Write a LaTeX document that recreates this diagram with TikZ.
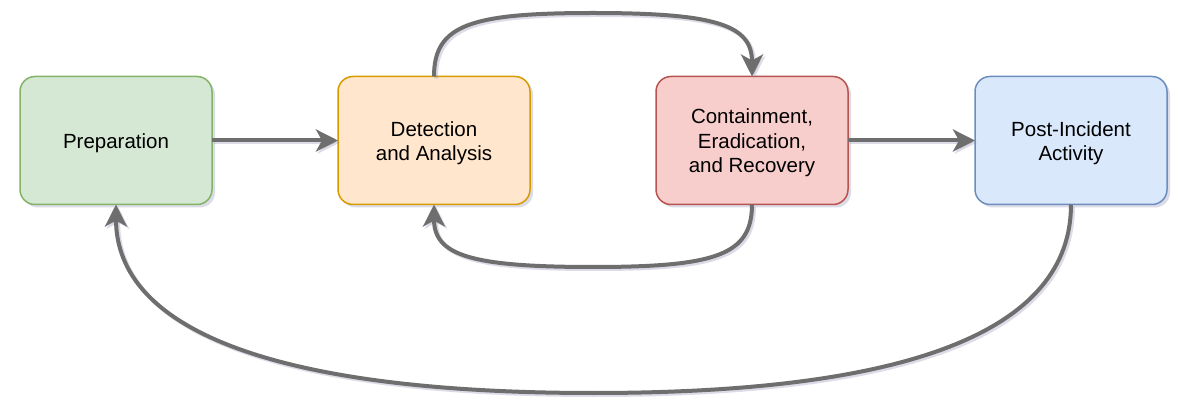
\documentclass[tikz,border=0pt]{standalone}
\usepackage{fontspec}
\setmainfont{Liberation Sans}
\usetikzlibrary{arrows.meta,shadows}
\definecolor{edgec}{HTML}{6E6E6E}
\definecolor{shc}{HTML}{8A8DB0}
\definecolor{gfill}{HTML}{D5E8D4}\definecolor{gline}{HTML}{82B366}
\definecolor{ofill}{HTML}{FFE6CC}\definecolor{oline}{HTML}{D79B00}
\definecolor{rfill}{HTML}{F8CECC}\definecolor{rline}{HTML}{B85450}
\definecolor{bfill}{HTML}{DAE8FC}\definecolor{bline}{HTML}{6C8EBF}
\newcommand{\topstrut}{\rule{0pt}{20pt}}
\tikzset{
  phase/.style={rounded corners=15pt, minimum width=192pt, minimum height=128pt,
    line width=1.5pt, align=center, outer sep=0pt, inner sep=0pt,
    font=\fontsize{20.5}{24.6}\selectfont,
    drop shadow={shadow xshift=3pt, shadow yshift=-3pt, opacity=0.3, fill=shc}},
  flow/.style={draw=edgec, line width=4pt,
    -{Stealth[length=22pt,width=22pt,inset=6pt]},
    preaction={draw=shc, opacity=0.3, line width=4pt, transform canvas={shift={(2pt,-2pt)}}}}
}
\begin{document}
\begin{tikzpicture}[x=1pt,y=-1pt]
\useasboundingbox[fill=white] (0,0) rectangle (1199,419);
\node[phase, fill=gfill, draw=gline] (p) at (116,140.5) {\topstrut Preparation};
\node[phase, fill=ofill, draw=oline] (d) at (434,140.5) {\topstrut Detection\\and Analysis};
\node[phase, fill=rfill, draw=rline] (c) at (752,140.5) {\topstrut Containment,\\Eradication,\\and Recovery};
\node[phase, fill=bfill, draw=bline] (a) at (1071,140.5) {\topstrut Post-Incident\\Activity};
\draw[flow] (p.east) -- (d.west);
\draw[flow] (c.east) -- (a.west);
\draw[flow] (d.north) .. controls (434,25) and (470,13) .. (593,13)
  .. controls (716,13) and (752,25) .. (c.north);
\draw[flow] (c.south) .. controls (752,255) and (716,267) .. (593,267)
  .. controls (470,267) and (434,255) .. (d.south);
\draw[flow] (a.south) .. controls (1071,330) and (912,393) .. (593.5,393)
  .. controls (275,393) and (116,330) .. (p.south);
\end{tikzpicture}
\end{document}
